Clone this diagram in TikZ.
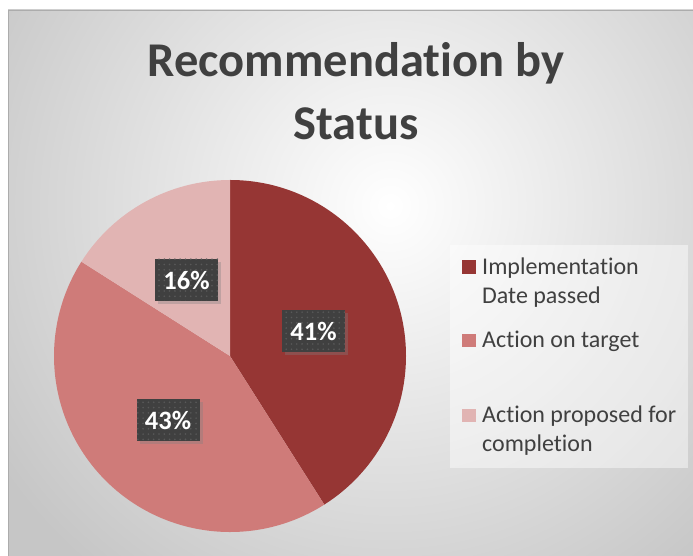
\documentclass[tikz,border=0pt]{standalone}
\usepackage{fontspec}
\setmainfont{Carlito}[Ligatures=NoCommon]
\usetikzlibrary{patterns.meta,shadows}
\definecolor{sliceA}{HTML}{963634}
\definecolor{sliceB}{HTML}{CF7B79}
\definecolor{sliceC}{HTML}{E1B4B3}
\definecolor{inkgray}{HTML}{404040}
\definecolor{edgegray}{HTML}{C6C6C6}

\begin{document}
\begin{tikzpicture}[x=1pt,y=1pt,
  anteil/.style={fill=inkgray,text=white,inner sep=0pt,
    minimum width=63pt,minimum height=42pt,
    font=\fontsize{26.5}{30}\selectfont\bfseries,
    drop shadow={shadow xshift=3pt,shadow yshift=-3pt,opacity=0.35},
    postaction={pattern={Dots[distance=5.3pt,radius=0.9pt]},pattern color=gray!70!black}},
  farbe/.style={minimum size=13.5pt,inner sep=0pt,anchor=south west},
  eintrag/.style={anchor=base west,align=left,text=inkgray,inner sep=0pt,
    font=\fontsize{24}{29}\selectfont}]
  \useasboundingbox (0,0) rectangle (693,556);
  % chart area with soft radial background
  \begin{scope}
    \clip (8,0) rectangle (693,546);
    \fill[edgegray] (8,0) rectangle (693,546);
    \shade[inner color=white,outer color=edgegray] (390,350) circle (470);
  \end{scope}
  \draw[gray!65] (8,0) -- (8,546) -- (693,546);
  % base of a two-line node = last line
  \node[align=center,anchor=base,text=inkgray,font=\fontsize{48.5}{63}\selectfont\bfseries]
    (titel) at (356,416) {Recommendation by\\Status};
  % pie
  \coordinate (mitte) at (230,200);
  \fill[sliceA] (mitte) -- ++(90:176) arc[start angle=90,end angle=-57.6,radius=176] -- cycle;
  \fill[sliceB] (mitte) -- ++(-57.6:176) arc[start angle=-57.6,end angle=-212.4,radius=176] -- cycle;
  \fill[sliceC] (mitte) -- ++(147.6:176) arc[start angle=147.6,end angle=90,radius=176] -- cycle;
  \node[anteil] (pA) at (313.5,225) {41\%};
  \node[anteil] (pB) at (168,135.5) {43\%};
  \node[anteil] (pC) at (186.5,276) {16\%};
  % legend
  \node[fill=white,fill opacity=0.45,inner sep=0pt,anchor=north west,
    minimum width=238pt,minimum height=223pt] (legende) at (450,311) {};
  \node[farbe,fill=sliceA] (kA) at (462,282) {};
  \node[eintrag] (tA) at (482,252) {Implementation\\Date passed};
  \node[farbe,fill=sliceB] (kB) at (462,208.5) {};
  \node[eintrag] (tB) at (482,208) {Action on target};
  \node[farbe,fill=sliceC] (kC) at (462,133.5) {};
  \node[eintrag] (tC) at (482,104) {Action proposed for\\completion};
\end{tikzpicture}
\end{document}
